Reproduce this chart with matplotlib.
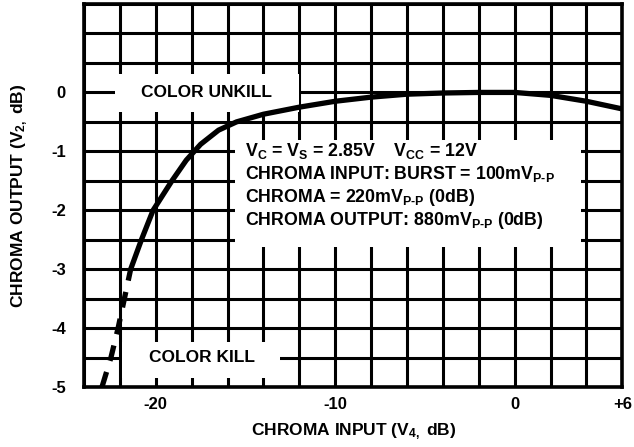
# Chroma output vs chroma input (color kill / unkill characteristic)
import matplotlib
matplotlib.use("Agg")
import matplotlib.pyplot as plt
from matplotlib.patches import Rectangle

plt.rcParams['font.family'] = ['Liberation Sans', 'DejaVu Sans']
plt.rcParams['font.weight'] = 'bold'
plt.rcParams['mathtext.fontset'] = 'custom'
plt.rcParams['mathtext.rm'] = 'Liberation Sans:bold'
plt.rcParams['mathtext.bf'] = 'Liberation Sans:bold'
plt.rcParams['mathtext.it'] = 'Liberation Sans:bold'
plt.rcParams['mathtext.default'] = 'bf'

# solid part of the curve (dB in -> dB out)
x_solid = [-21.4, -20.8, -20.15, -19.1, -18.3, -17.5, -16.5, -15.5, -14.0, -12.0,
           -10.0, -8.0, -6.0, -4.0, -2.0, 0.0, 2.0, 4.0, 6.0]
y_solid = [-3.0, -2.5, -2.0, -1.5, -1.15, -0.88, -0.64, -0.5, -0.37, -0.25,
           -0.15, -0.08, -0.03, -0.01, 0.0, 0.0, -0.05, -0.15, -0.28]
# dashed part (below kill threshold)
x_dash = [-23.0, -22.5, -22.1, -21.75, -21.4]
y_dash = [-5.0, -4.5, -4.0, -3.5, -3.0]

x_grid = list(range(-24, 7, 2))
x_labels = ['', '', '-20', '', '', '', '', '-10', '', '', '', '', '0', '', '', '+6']
y_grid = [-5 + 0.5 * i for i in range(14)]
y_labels = ['-5', '', '-4', '', '-3', '', '-2', '', '-1', '', '0', '', '', '']

cond_lines = [r"V$_{C}$ = V$_{S}$ = 2.85V    V$_{CC}$ = 12V",
              r"CHROMA INPUT: BURST = 100mV$_{P\text{-}P}$",
              r"CHROMA = 220mV$_{P\text{-}P}$ (0dB)",
              r"CHROMA OUTPUT: 880mV$_{P\text{-}P}$ (0dB)"]

fig = plt.figure(figsize=(6.34, 4.47), dpi=100)
ax = fig.add_axes([0.1325, 0.134, 0.849, 0.857])

ax.set_xlim(-24, 6)
ax.set_ylim(-5, 1.5)
ax.set_xticks(x_grid)
ax.set_xticklabels(x_labels, fontsize=12, fontweight='bold')
ax.set_yticks(y_grid)
ax.set_yticklabels(y_labels, fontsize=12, fontweight='bold')
ax.tick_params(length=0, pad=13)
ax.tick_params(axis='x', pad=7)
ax.grid(True, color='black', linewidth=2.2)
for s in ax.spines.values():
    s.set_linewidth(2.6)

# white label boxes that break the grid
ax.add_patch(Rectangle((-22.3, -0.33), 10.3, 0.65, facecolor='white',
                       edgecolor='none', zorder=2))
ax.text(-17.2, 0.0, "COLOR UNKILL", fontsize=12.5, fontweight='bold',
        ha='center', va='center', zorder=3)
ax.add_patch(Rectangle((-21.9, -4.85), 8.8, 0.62, facecolor='white',
                       edgecolor='none', zorder=2))
ax.text(-17.45, -4.5, "COLOR KILL", fontsize=12.5, fontweight='bold',
        ha='center', va='center', zorder=3)
ax.add_patch(Rectangle((-15.6, -2.63), 19.3, 1.83, facecolor='white',
                       edgecolor='none', zorder=2))
for i, t in enumerate(cond_lines):
    ax.text(-15.0, -1.0 - 0.39 * i, t, fontsize=12.8, fontweight='bold',
            ha='left', va='center', zorder=3)

ax.plot(x_solid, y_solid, color='black', linewidth=3.8, zorder=4,
        solid_capstyle='butt')
ax.plot(x_dash, y_dash, color='black', linewidth=3.8, zorder=4,
        dashes=(3, 2.2))

ax.set_xlabel(r"CHROMA INPUT (V$_{4,}$ dB)", fontsize=12.5, fontweight='bold',
              labelpad=7)
ax.set_ylabel(r"CHROMA OUTPUT (V$_{2,}$ dB)", fontsize=12.5, fontweight='bold',
              labelpad=15)

fig.savefig("out.png", dpi=100)
